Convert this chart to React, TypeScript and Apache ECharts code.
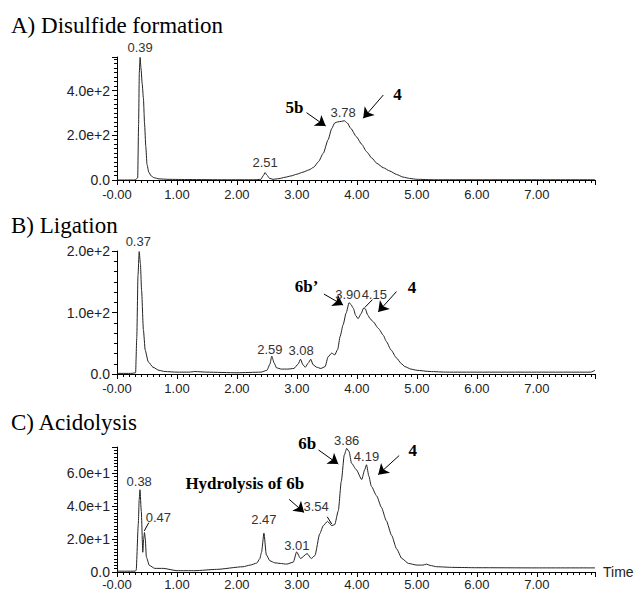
import React, { useEffect, useRef } from 'react';
import * as echarts from 'echarts';

// ---------- data ----------
const timeA = [0, 0.3, 0.345, 0.36, 0.372, 0.385, 0.4, 0.42, 0.44, 0.46, 0.48, 0.5, 0.53, 0.57, 0.62, 0.7, 0.85, 1.2, 1.8, 2.3, 2.4, 2.44, 2.47, 2.5, 2.54, 2.6, 2.7, 2.8, 2.9, 3.0, 3.1, 3.2, 3.28, 3.36, 3.44, 3.52, 3.58, 3.63, 3.68, 3.74, 3.79, 3.84, 3.9, 3.99, 4.08, 4.16, 4.25, 4.33, 4.44, 4.55, 4.66, 4.77, 4.88, 5.0, 5.3, 6.0, 7.0, 7.97];
const signalA = [0, 0, 10, 250, 480, 548, 500, 430, 367, 250, 150, 70, 35, 18, 10, 5, 3, 2, 1, 1, 3, 20, 33, 22, 8, 3, 6, 12, 18, 26, 35, 45, 57, 82, 120, 180, 230, 255, 260, 262, 265, 255, 230, 194, 160, 127, 98, 75, 55, 40, 25, 13, 7, 3, 1, 1, 1, 1];

const timeB = [0, 0.25, 0.31, 0.33, 0.35, 0.37, 0.39, 0.41, 0.44, 0.47, 0.52, 0.6, 0.7, 0.8, 1.0, 1.2, 1.3, 1.5, 2.0, 2.4, 2.5, 2.55, 2.58, 2.62, 2.66, 2.74, 2.85, 2.95, 3.02, 3.06, 3.1, 3.14, 3.19, 3.23, 3.27, 3.33, 3.4, 3.47, 3.52, 3.58, 3.63, 3.68, 3.72, 3.77, 3.82, 3.87, 3.9, 3.94, 3.98, 4.02, 4.07, 4.11, 4.14, 4.18, 4.22, 4.27, 4.36, 4.44, 4.49, 4.57, 4.66, 4.74, 4.8, 4.9, 5.0, 5.22, 5.5, 6.0, 7.0, 7.9, 7.97];
const signalB = [1, 1, 2, 60, 160, 199, 180, 136, 72, 39, 20, 11, 6, 4, 3, 3, 4, 3, 2, 3, 6, 16, 29, 18, 10, 8, 8, 9, 16, 24, 15, 11, 18, 24, 15, 11, 9, 12, 28, 34, 31, 40, 61, 80, 99, 116, 113, 107, 95, 90, 98, 107, 106, 96, 90, 85, 74, 63, 53, 39, 26, 17, 12, 8, 6, 4, 3, 3, 3, 3, 6];

const timeC = [0, 0.3, 0.32, 0.355, 0.37, 0.383, 0.405, 0.43, 0.445, 0.458, 0.47, 0.49, 0.54, 0.63, 0.77, 1.0, 1.3, 1.66, 2.1, 2.22, 2.33, 2.38, 2.41, 2.45, 2.49, 2.55, 2.63, 2.72, 2.83, 2.94, 2.995, 3.06, 3.17, 3.24, 3.3, 3.38, 3.44, 3.51, 3.58, 3.63, 3.69, 3.74, 3.79, 3.83, 3.87, 3.91, 3.99, 4.08, 4.13, 4.16, 4.2, 4.24, 4.33, 4.41, 4.49, 4.58, 4.66, 4.75, 4.86, 5.0, 5.1, 5.16, 5.22, 5.33, 5.6, 6.0, 7.0, 7.97];
const signalC = [0.5, 0.5, 1, 29, 44, 50, 37, 12, 20, 24, 21, 9, 4, 2.2, 2.2, 0.8, 0.8, 1.6, 3.2, 4.2, 5.4, 8, 12, 23.6, 10.4, 6.8, 5.6, 5.2, 4.8, 6, 12.2, 8.2, 11.2, 8.2, 10, 23.2, 28.2, 30.8, 28.2, 28.8, 37.2, 55.2, 71.2, 75.2, 73.2, 66.2, 62.2, 56.2, 62.2, 65.2, 58.2, 52.2, 46.2, 39.2, 31.2, 22.2, 14.2, 8.2, 5.2, 4.2, 4.2, 4.8, 4, 3.2, 2.8, 2.6, 2.5, 2.5];

const panelTitles = ['A) Disulfide formation', 'B) Ligation', 'C) Acidolysis'];
const xTickLabels = ['-0.00', '1.00', '2.00', '3.00', '4.00', '5.00', '6.00', '7.00'];
const yMax = [550, 200, 76];
const yInterval = [200, 100, 20];
const yExponent = [2, 2, 1];
const timeMax = 7.97;

// ---------- styles ----------
const SANS = 'Liberation Sans, Arial, sans-serif';
const SERIF = 'Liberation Serif, Times New Roman, serif';

const pairs = (t: number[], v: number[]) => t.map((x, i) => [x, v[i]]);

function peakLabel(name: string, coord: number[], distance: number) {
  return {
    name, coord,
    label: { show: true, position: 'top', distance, formatter: '{b}', fontFamily: SANS, fontSize: 13, color: '#333' },
  };
}
function freeLabel(name: string, coord: number[]) {
  return {
    name, coord,
    label: { show: true, position: 'inside', formatter: '{b}', fontFamily: SANS, fontSize: 13, color: '#333' },
  };
}
function boldLabel(name: string, coord: number[], offset: number[] = [0, 0]) {
  return {
    name, coord,
    label: { show: true, position: 'inside', offset, formatter: '{b}', fontFamily: SERIF, fontWeight: 'bold', fontSize: 17, color: '#000' },
  };
}
function arrow(from: number[], to: number[]) {
  return [{ coord: from, symbol: 'none' }, { coord: to, symbol: 'arrow', symbolSize: 10 }];
}
function leader(from: number[], to: number[]) {
  return [{ coord: from, symbol: 'none' }, { coord: to, symbol: 'none' }];
}

const annotations = [
  {
    labels: [
      peakLabel('0.39', [0.385, 548], 3),
      peakLabel('2.51', [2.47, 33], 3),
      peakLabel('3.78', [3.77, 262], 2),
      boldLabel('5b', [2.96, 324]),
      boldLabel('4', [4.675, 384]),
    ],
    lines: [arrow([3.16, 301], [3.48, 241]), arrow([4.44, 380], [4.105, 276])],
  },
  {
    labels: [
      peakLabel('0.37', [0.355, 199], 3),
      peakLabel('2.59', [2.55, 29], 0),
      peakLabel('3.08', [3.07, 24], 2),
      peakLabel('3.90', [3.85, 116], 1),
      freeLabel('4.15', [4.29, 128.5]),
      boldLabel('6b\u2019', [3.16, 143]),
      boldLabel('4', [4.92, 141]),
    ],
    lines: [arrow([3.45, 130], [3.77, 112]), arrow([4.66, 134], [4.355, 101]), leader([4.13, 108], [4.26, 121])],
  },
  {
    labels: [
      peakLabel('0.38', [0.37, 50], 1),
      freeLabel('0.47', [0.69, 33]),
      peakLabel('2.47', [2.45, 23.6], 7),
      peakLabel('3.01', [3.0, 12.2], -1),
      freeLabel('3.54', [3.32, 39.6]),
      peakLabel('3.86', [3.83, 75.2], 1),
      peakLabel('4.19', [4.16, 65.2], 1),
      boldLabel('Hydrolysis of 6b', [2.13, 54]),
      boldLabel('6b', [3.17, 70], [0, -13]),
      boldLabel('4', [4.93, 73.8]),
    ],
    lines: [
      arrow([2.87, 44.2], [3.12, 36.2]),
      arrow([3.36, 74.2], [3.69, 65.6]),
      arrow([4.705, 70.8], [4.355, 59.2]),
      leader([0.455, 25], [0.53, 30]),
      leader([3.505, 33.6], [3.58, 29.2]),
    ],
  },
];

const gridBoxes = [
  { top: 57, height: 123 },
  { top: 251, height: 123 },
  { top: 447, height: 125 },
];
const titleTops = [14, 214, 411];
const xLabelMargins = [8, 8, 6];

function buildOption() {
  const seriesData = [pairs(timeA, signalA), pairs(timeB, signalB), pairs(timeC, signalC)];
  const black = { color: '#000', width: 1 };
  return {
    animation: false,
    backgroundColor: '#fff',
    title: panelTitles.map((text, i) => ({
      text, left: 11, top: titleTops[i], padding: 0,
      textStyle: { fontFamily: SERIF, fontSize: 23, fontWeight: 'normal', color: '#000' },
    })),
    grid: gridBoxes.map((g) => ({ left: 117, width: 478, top: g.top, height: g.height, outerBoundsMode: 'none', containLabel: false })),
    xAxis: gridBoxes.map((_, i) => ({
      gridIndex: i, type: 'value', min: 0, max: timeMax, interval: 1,
      name: i === 2 ? 'Time' : '', nameLocation: 'end', nameGap: 8,
      nameTextStyle: { fontFamily: SANS, fontSize: 14, color: '#222', align: 'left', verticalAlign: 'middle' },
      axisLine: { show: true, onZero: false, lineStyle: black },
      axisTick: { show: true, length: 5, lineStyle: black },
      minorTick: { show: true, splitNumber: 10, length: 3, lineStyle: black },
      splitLine: { show: false },
      minorSplitLine: { show: false },
      axisLabel: {
        margin: xLabelMargins[i], fontFamily: SANS, fontSize: 13, color: '#222',
        formatter: (v: number) => {
          const k = Math.round(v);
          if (Math.abs(v - k) > 1e-6) return '';
          return xTickLabels[k] ?? '';
        },
      },
    })),
    yAxis: gridBoxes.map((_, i) => ({
      gridIndex: i, type: 'value', min: 0, max: yMax[i], interval: yInterval[i],
      axisLine: { show: true, onZero: false, lineStyle: black },
      axisTick: { show: true, length: 5, lineStyle: black },
      minorTick: { show: true, splitNumber: i === 1 ? 6 : 10, length: 3, lineStyle: black },
      splitLine: { show: false },
      minorSplitLine: { show: false },
      axisLabel: {
        margin: 7, fontFamily: SANS, fontSize: 14, color: '#222',
        formatter: (v: number) => {
          if (v === 0) return '0.0';
          const r = v / yInterval[i];
          if (Math.abs(r - Math.round(r)) > 1e-6) return '';
          return (v / Math.pow(10, yExponent[i])).toFixed(1) + 'e+' + yExponent[i];
        },
      },
    })),
    series: seriesData.map((data, i) => ({
      type: 'line', xAxisIndex: i, yAxisIndex: i, data,
      symbol: 'none', smooth: 0.2, smoothMonotone: 'x',
      lineStyle: { color: '#222', width: 1 },
      silent: true,
      markPoint: {
        symbol: 'circle', symbolSize: 1, silent: true,
        itemStyle: { color: 'rgba(0,0,0,0)' },
        data: annotations[i].labels,
      },
      markLine: {
        silent: true, symbol: ['none', 'arrow'], symbolSize: 10,
        label: { show: false },
        lineStyle: { color: '#000', width: 1, type: 'solid' },
        emphasis: { disabled: true },
        data: annotations[i].lines,
      },
    })),
  };
}

export default function App() {
  const ref = useRef<HTMLDivElement>(null);
  useEffect(() => {
    if (!ref.current) return;
    const chart = echarts.init(ref.current, undefined, { renderer: 'svg' });
    chart.setOption(buildOption() as any);
    return () => chart.dispose();
  }, []);
  return (
    <div
      ref={ref}
      style={{ position: 'fixed', left: 0, top: 0, width: 635, height: 592, background: '#fff' }}
    />
  );
}
